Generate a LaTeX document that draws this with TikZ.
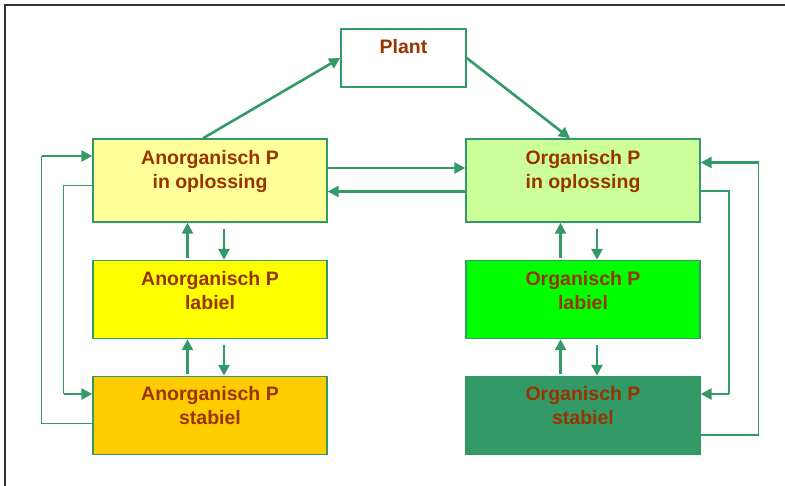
\documentclass[tikz,border=0pt]{standalone}
\usepackage{fontspec}
\setmainfont{Liberation Sans}
\usetikzlibrary{arrows.meta}
\definecolor{pgreen}{RGB}{51,153,102}
\definecolor{ptext}{RGB}{153,51,0}
\definecolor{aopl}{RGB}{255,255,153}
\definecolor{alab}{RGB}{255,255,0}
\definecolor{astab}{RGB}{255,204,0}
\definecolor{oopl}{RGB}{204,255,153}
\definecolor{olab}{RGB}{0,255,0}
\tikzset{
  pool/.style={draw=pgreen,line width=1.4pt,rectangle,inner sep=0pt,
    minimum width=234pt,minimum height=78pt,align=center,text=ptext,
    font=\fontsize{19.5}{24}\selectfont\bfseries},
  flow/.style={draw=pgreen,line width=2.6pt,-{Triangle[length=11pt,width=11pt]}},
  back/.style={draw=pgreen,line width=1.6pt}
}
\begin{document}
\begin{tikzpicture}[x=1pt,y=-1pt]
        \useasboundingbox (0,0) rectangle (785,486);
        %% Frame
        \draw[line width=1.4pt,black!80] (5,486) -- (5,5) -- (785,5);
        %% Pools
        \node[pool,fill=white,minimum width=125pt,minimum height=58pt] (plant) at (403.5,58) {Plant\\~};
        \node[pool,fill=aopl,minimum height=83pt] (anopl) at (210,180.5) {Anorganisch P\\in oplossing\\[-2pt]~};
        \node[pool,fill=alab] (anlab) at (210,299.5) {Anorganisch P\\labiel\\[-5pt]~};
        \node[pool,fill=astab] (anstab) at (210,415.5) {Anorganisch P\\stabiel\\[-4pt]~};
        \node[pool,fill=oopl,minimum height=83pt] (orgopl) at (583,180.5) {Organisch P\\in oplossing\\[-2pt]~};
        \node[pool,fill=olab] (orglab) at (583,299.5) {Organisch P\\labiel\\[-5pt]~};
        \node[pool,fill=pgreen] (orgstab) at (583,415.5) {Organisch P\\stabiel\\[-4pt]~};
        %% Uptake and return
        \draw[flow] ([xshift=-7pt]anopl.north) -- (plant.west);
        \draw[flow] (plant.east) -- ([xshift=-13pt]orgopl.north);
        %% Solution exchange
        \draw[flow] ([yshift=12.5pt]anopl.east) -- ([yshift=12.5pt]orgopl.west);
        \draw[flow] ([yshift=-11pt]orgopl.west) -- ([yshift=-11pt]anopl.east);
        %% Vertical exchange
        \foreach \a/\b in {anopl/anlab,anlab/anstab,orgopl/orglab,orglab/orgstab}{
          \draw[flow,shorten <=2pt] ([xshift=-22.5pt]\b.north) -- ([xshift=-22.5pt]\a.south);
          \draw[flow,shorten <=6pt] ([xshift=14pt]\a.south) -- ([xshift=14pt]\b.north);
        }
        %% Side loops
        \coordinate (loa) at (41.5,156);
        \coordinate (lib) at (63.5,394);
        \coordinate (roa) at (758.5,162.5);
        \coordinate (rib) at (729,394);
        \draw[back] ([yshift=-8pt]anstab.west) -| (loa);
        \draw[flow] (loa) -- (loa -| anopl.west);
        \draw[back] ([yshift=-5pt]anopl.west) -| (lib);
        \draw[flow] (lib) -- (lib -| anstab.west);
        \draw[back] ([yshift=-19.5pt]orgstab.east) -| (roa);
        \draw[flow] (roa) -- (roa -| orgopl.east);
        \draw[back] ([yshift=-10.5pt]orgopl.east) -| (rib);
        \draw[flow] (rib) -- (rib -| orgstab.east);
\end{tikzpicture}
\end{document}
